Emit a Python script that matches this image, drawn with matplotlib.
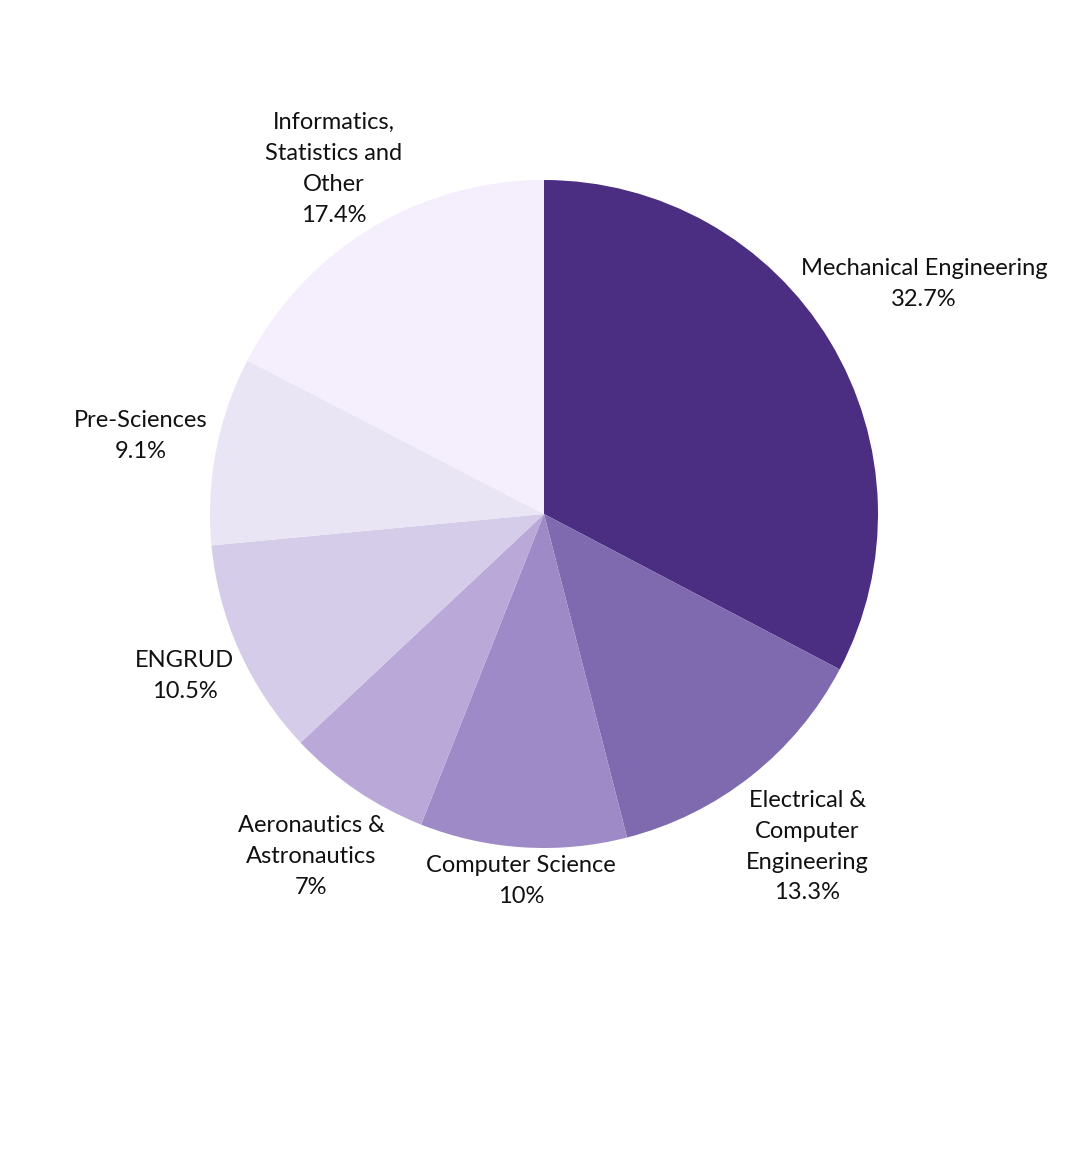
import numpy as np
import matplotlib
matplotlib.use("Agg")
import matplotlib.pyplot as plt

plt.rcParams['font.family'] = ['Lato', 'DejaVu Sans']

labels = ["Mechanical Engineering", "Electrical &\nComputer\nEngineering", "Computer Science",
          "Aeronautics &\nAstronautics", "ENGRUD", "Pre-Sciences",
          "Informatics,\nStatistics and\nOther"]
shares = [32.7, 13.3, 10, 7, 10.5, 9.1, 17.4]
pct_text = ["32.7%", "13.3%", "10%", "7%", "10.5%", "9.1%", "17.4%"]
colors = ["#4b2d82", "#7f69af", "#9d8ac6", "#baa9d8", "#d5ccea", "#e9e5f5", "#f4eefd"]
# how far out (in radii) each label block sits
label_dist = [1.33, 1.27, 1.10, 1.24, 1.18, 1.23, 1.21]

W, H = 1080, 1153
fig = plt.figure(figsize=(W / 100, H / 100), dpi=100)
R = 334
cx, cy = 544, H - 514
span = 1.6
side = 2 * span * R
ax = fig.add_axes([(cx - side / 2) / W, (cy - side / 2) / H, side / W, side / H])

wedges, _ = ax.pie(shares, colors=colors, startangle=90, counterclock=False,
                   wedgeprops=dict(linewidth=0))
ax.set_xlim(-span, span)
ax.set_ylim(-span, span)
ax.set_aspect('equal')
ax.axis('off')

for w, lab, pct, d in zip(wedges, labels, pct_text, label_dist):
    mid = np.deg2rad((w.theta1 + w.theta2) / 2)
    x, y = d * np.cos(mid), d * np.sin(mid)
    ax.text(x, y, lab + "\n" + pct, ha='center', va='center', fontsize=17,
            linespacing=1.58, color='#111111')

fig.savefig("out.png", dpi=100, facecolor='white')
